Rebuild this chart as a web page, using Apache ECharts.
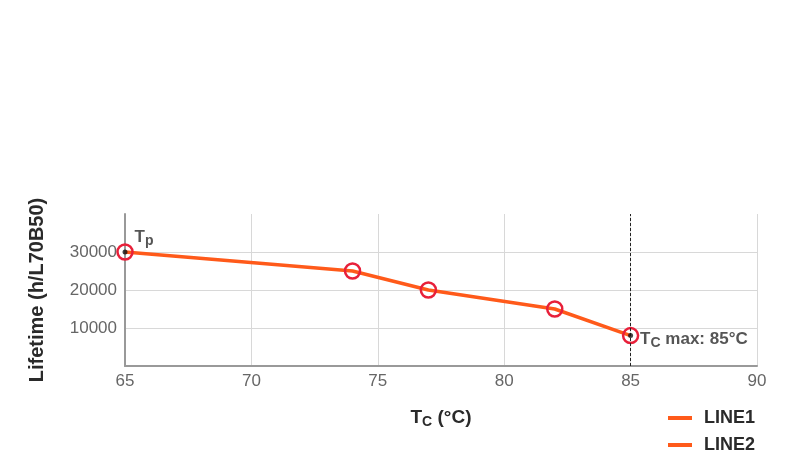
<!DOCTYPE html>
<html><head><meta charset="utf-8">
<script src="https://cdn.jsdelivr.net/npm/echarts@6/dist/echarts.min.js"></script>
<style>html,body{margin:0;padding:0;background:#fff}#c{width:800px;height:467px}</style>
</head><body><div id="c"></div>
<script>
const temps = [65, 74, 77, 82, 85];
const lifetimes = [30000, 25000, 20000, 15000, 8000];
const xTicks = [65, 70, 75, 80, 85, 90];
const yTicks = [10000, 20000, 30000];
const tcMax = 85;
const seriesNames = ['LINE1', 'LINE2'];

const pts = temps.map((t, i) => [t, lifetimes[i]]);
const FONT = '"Liberation Sans", Arial, sans-serif';
const ORANGE = '#ff5a1a';
const RED = '#e8203a';
const DARK = '#2a2a2a';

const chart = echarts.init(document.getElementById('c'));
chart.setOption({
  animation: false,
  grid: { left: 125, right: 43, top: 214, bottom: 101 },
  xAxis: {
    type: 'value', min: 65, max: 90, interval: 5,
    name: 'T{sub|C} (°C)', nameLocation: 'middle', nameGap: 40,
    nameTextStyle: { fontFamily: FONT, fontSize: 19, fontWeight: 'bold', color: DARK,
      rich: { sub: { fontFamily: FONT, fontSize: 14, fontWeight: 'bold', color: DARK, padding: [9, 0, 0, 0] } } },
    axisLine: { lineStyle: { color: '#999', width: 2 } },
    axisTick: { show: false },
    axisLabel: { fontFamily: FONT, fontSize: 17, color: '#666', margin: 7,
      formatter: v => xTicks.includes(v) ? String(v) : '' },
    splitLine: { show: true, lineStyle: { color: '#d8d8d8', width: 1 } }
  },
  yAxis: {
    type: 'value', min: 0, max: 40000, interval: 10000,
    name: 'Lifetime (h/L70B50)', nameLocation: 'middle', nameGap: 78,
    nameTextStyle: { fontFamily: FONT, fontSize: 20, fontWeight: 'bold', color: DARK },
    axisLine: { show: true, lineStyle: { color: '#999', width: 2 } },
    axisTick: { show: false },
    axisLabel: { fontFamily: FONT, fontSize: 17, color: '#666', margin: 8,
      formatter: v => yTicks.includes(v) ? String(v) : '' },
    splitLine: { show: true, lineStyle: { color: ['#d8d8d8', '#d8d8d8', '#d8d8d8', '#d8d8d8', 'rgba(0,0,0,0)'], width: 1 } }
  },
  legend: {
    orient: 'vertical', left: 663, top: 404, itemGap: 9,
    itemWidth: 24, itemHeight: 4, icon: 'rect',
    textStyle: { fontFamily: FONT, fontSize: 18, fontWeight: 'bold', color: DARK, padding: [0, 0, 0, 7] },
    data: seriesNames.map(n => ({ name: n, itemStyle: { color: ORANGE, borderWidth: 0 } }))
  },
  series: [
    {
      name: seriesNames[0], type: 'line', data: pts, showSymbol: false,
      lineStyle: { color: ORANGE, width: 3.5 }, itemStyle: { color: ORANGE },
      z: 2,
      markLine: {
        silent: true, symbol: 'none', label: { show: false },
        lineStyle: { color: '#222', type: [3, 2], width: 1 },
        data: [{ xAxis: tcMax }]
      }
    },
    {
      name: seriesNames[1], type: 'line', data: pts,
      symbol: 'circle', symbolSize: 15,
      lineStyle: { width: 0, opacity: 0 },
      itemStyle: { color: 'rgba(0,0,0,0)', borderColor: RED, borderWidth: 2.5 },
      z: 4
    },
    {
      type: 'scatter', name: 'marks',
      data: [pts[0], pts[pts.length - 1]],
      symbol: 'circle', symbolSize: 5,
      itemStyle: { color: '#111' }, z: 5,
      label: {
        show: true, fontFamily: FONT, fontSize: 17, fontWeight: 'bold', color: DARK,
        formatter: p => p.dataIndex === 0 ? 'T{sub|p}' : 'T{sub|C} max: 85°C',
        position: 'right',
        rich: { sub: { fontFamily: FONT, fontSize: 14, fontWeight: 'bold', color: DARK, padding: [8, 0, 0, 0] } }
      },
      labelLayout: p => p.dataIndex === 0 ? { dx: 2, dy: -15 } : { dx: 2, dy: 4 }
    }
  ]
});
</script></body></html>
